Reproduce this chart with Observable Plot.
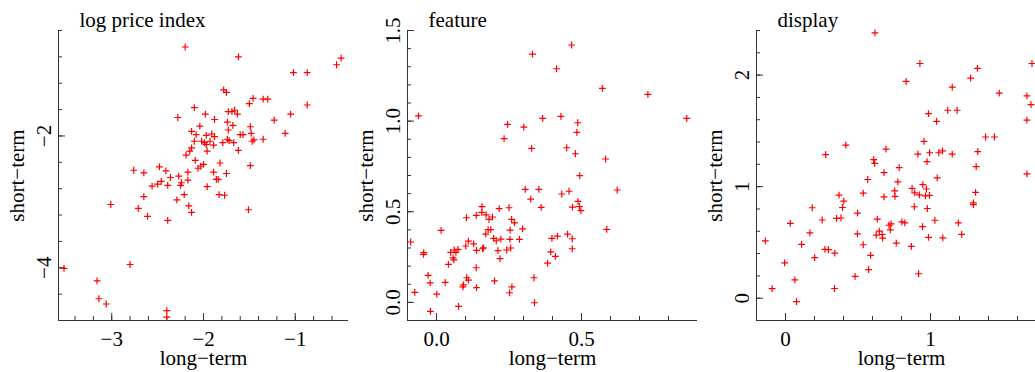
<!DOCTYPE html>
<html>
<head>
<meta charset="utf-8">
<script src="https://cdn.jsdelivr.net/npm/d3@7"></script>
<script src="https://cdn.jsdelivr.net/npm/@observablehq/plot@0.6"></script>
<style>
  html, body { margin: 0; padding: 0; background: #fff; overflow: hidden; }
  #wrap { position: relative; width: 1035px; height: 372px; overflow: hidden; }
  #wrap svg { position: absolute; top: 0; max-width: none !important; }
</style>
</head>
<body>
<div id="wrap"></div>
<script>
// ---------- data ----------
const titles = ["log price index", "feature", "display"];
const xTitle = "long−term";
const yTitle = "short−term";

// panel 1: log price index
const priceLong = [-2.20,-1.62,-0.50,-0.55,-1.02,-0.87,-1.78,-1.75,-1.46,-1.50,-1.35,-1.30,-0.87,-2.10,-1.05,-1.98,-1.73,-1.69,-1.66,-1.63,-2.28,-1.88,-1.23,-1.74,-2.04,-1.68,-1.49,-2.13,-1.73,-2.08,-1.97,-1.91,-1.88,-1.60,-1.57,-1.48,-1.11,-2.10,-2.02,-1.99,-1.97,-1.93,-1.89,-1.79,-1.74,-1.72,-1.67,-1.47,-1.45,-1.35,-2.13,-2.15,-1.96,-1.62,-2.19,-2.09,-2.00,-2.03,-2.06,-1.82,-1.49,-2.48,-2.41,-2.76,-2.65,-2.17,-1.89,-1.75,-2.36,-2.27,-2.17,-1.86,-1.84,-2.46,-2.50,-2.56,-2.39,-2.24,-2.25,-1.96,-2.65,-2.21,-1.83,-1.77,-2.29,-3.01,-2.16,-2.71,-1.51,-2.61,-2.13,-2.39,-3.52,-2.80,-3.16,-3.14,-3.06,-2.40,-2.40];
const priceShort = [-0.65,-0.80,-0.82,-0.92,-1.04,-1.04,-1.30,-1.34,-1.43,-1.51,-1.44,-1.44,-1.53,-1.57,-1.67,-1.67,-1.63,-1.63,-1.61,-1.67,-1.72,-1.75,-1.76,-1.79,-1.85,-1.84,-1.86,-1.93,-1.91,-1.98,-1.99,-1.97,-2.01,-1.98,-1.98,-1.96,-1.96,-2.08,-2.08,-2.10,-2.13,-2.08,-2.14,-2.10,-2.05,-2.07,-2.10,-2.08,-2.06,-2.05,-2.18,-2.23,-2.23,-2.22,-2.29,-2.37,-2.43,-2.46,-2.49,-2.41,-2.45,-2.47,-2.53,-2.52,-2.56,-2.55,-2.55,-2.57,-2.63,-2.61,-2.67,-2.66,-2.66,-2.69,-2.73,-2.76,-2.75,-2.71,-2.75,-2.77,-2.92,-2.89,-2.89,-2.90,-2.97,-3.04,-3.06,-3.10,-3.12,-3.22,-3.16,-3.28,-4.01,-3.95,-4.20,-4.47,-4.55,-4.65,-4.75];

// panel 2: feature
const featureLong = [-0.062,0.331,0.466,0.414,0.572,0.729,0.863,0.245,0.301,0.366,0.429,0.487,0.484,0.233,0.328,0.449,0.479,0.583,0.494,0.306,0.353,0.325,0.361,0.432,0.457,0.623,0.488,0.469,0.493,0.498,0.587,
  -0.089,-0.044,-0.045,-0.075,-0.029,-0.022,-0.021,0.001,0.016,0.030,0.041,0.049,0.061,0.067,0.057,0.060,0.074,0.076,0.091,0.093,0.101,0.103,0.110,0.104,0.110,0.128,0.137,0.138,0.137,0.138,0.157,0.156,0.162,0.159,0.171,0.181,0.193,0.170,0.178,0.187,0.197,0.206,0.200,0.212,0.216,0.222,0.219,0.242,0.250,0.254,0.259,0.269,0.253,0.256,0.252,0.260,0.286,0.297,0.336,0.338,0.383,0.394,0.410,0.398,0.417,0.452,0.468,0.468];
const featureShort = [1.029,1.370,1.420,1.289,1.181,1.148,1.015,0.982,0.967,1.015,1.026,0.991,0.938,0.903,0.850,0.853,0.820,0.791,0.699,0.623,0.623,0.570,0.524,0.598,0.613,0.620,0.557,0.526,0.529,0.506,0.403,
  0.333,0.274,0.265,0.055,0.149,0.108,-0.050,0.046,0.397,0.110,0.210,0.276,0.289,0.276,0.246,0.235,0.292,-0.022,0.086,0.097,0.311,0.467,0.338,0.136,0.123,0.323,0.480,0.287,0.191,0.081,0.528,0.497,0.301,0.296,0.483,0.458,0.471,0.377,0.401,0.401,0.353,0.340,0.119,0.285,0.517,0.349,0.241,0.289,0.522,0.399,0.458,0.439,0.348,0.300,0.053,0.086,0.348,0.405,0.136,-0.002,0.217,0.279,0.254,0.353,0.366,0.377,0.351,0.296];

// panel 3: display
const displayLong = [0.617,0.927,1.700,1.324,1.277,0.832,1.150,1.474,1.665,1.693,0.986,1.119,1.184,1.042,1.665,1.380,1.441,0.416,0.277,0.693,0.955,0.913,0.994,1.057,1.083,1.150,1.326,0.976,0.608,0.615,0.784,0.679,1.315,1.046,1.665,0.567,0.775,0.947,0.873,0.891,0.972,0.965,0.993,0.923,0.753,0.755,0.679,0.536,0.369,0.402,0.393,0.352,0.383,0.888,0.978,1.311,1.296,1.296,0.184,0.253,0.033,0.497,0.633,0.802,0.823,1.030,1.192,0.728,0.714,0.723,0.647,0.667,0.670,0.626,0.945,0.496,0.168,-0.139,0.111,0.536,0.764,0.868,0.986,1.085,1.215,0.272,0.296,0.340,0.201,0.587,-0.006,0.573,0.480,0.918,0.064,-0.092,0.338,0.076];
const displayShort = [2.378,2.104,2.104,2.060,1.973,1.944,1.893,1.839,1.813,1.735,1.654,1.685,1.685,1.585,1.596,1.445,1.445,1.372,1.288,1.337,1.406,1.292,1.304,1.304,1.320,1.292,1.314,1.225,1.243,1.208,1.170,1.125,1.180,1.078,1.114,1.064,1.043,1.018,0.985,0.945,0.979,0.917,0.922,0.927,0.962,0.913,0.909,0.942,0.924,0.871,0.813,0.716,0.719,0.820,0.804,0.948,0.854,0.839,0.811,0.701,0.670,0.763,0.708,0.685,0.676,0.699,0.676,0.667,0.654,0.613,0.601,0.571,0.538,0.565,0.641,0.576,0.585,0.513,0.482,0.479,0.494,0.464,0.545,0.540,0.573,0.438,0.435,0.404,0.363,0.384,0.317,0.257,0.196,0.219,0.165,0.085,0.087,-0.031];

// axes: domains, ticks, labels
const xDomains = [[-3.58, -0.42], [-0.1, 0.9], [-0.2, 1.8]];
const yDomains = [[-4.8, -0.4], [-0.1, 1.5], [-0.2, 2.4]];
const xMinorTicks = [
  [-3.4,-3.2,-3.0,-2.8,-2.6,-2.4,-2.2,-2.0,-1.8,-1.6,-1.4,-1.2,-1.0,-0.8,-0.6],
  [0.0,0.1,0.2,0.3,0.4,0.5,0.6,0.7,0.8],
  [0.0,0.2,0.4,0.6,0.8,1.0,1.2,1.4,1.6]
];
const yMinorTicks = [
  [-4.8,-4.4,-4.0,-3.6,-3.2,-2.8,-2.4,-2.0,-1.6,-1.2,-0.8,-0.4],
  [0.0,0.1,0.2,0.3,0.4,0.5,0.6,0.7,0.8,0.9,1.0,1.1,1.2,1.3,1.4,1.5],
  [0.0,0.2,0.4,0.6,0.8,1.0,1.2,1.4,1.6,1.8,2.0,2.2,2.4]
];
const xMajorTicks = [[-3, -2, -1], [0, 0.5], [0, 1]];
const xTickLabels = [["−3", "−2", "−1"], ["0.0", "0.5"], ["0", "1"]];
const yMajorTicks = [[-4, -2], [0, 0.5, 1.0, 1.5], [0, 1, 2]];
const yTickLabels = [["−4", "−2"], ["0.0", "0.5", "1.0", "1.5"], ["0", "1", "2"]];

const panelsX = [priceLong, featureLong, displayLong];
const panelsY = [priceShort, featureShort, displayShort];

// ---------- drawing ----------
const W = 349, H = 372, ML = 58, MR = 1, MT = 30, MB = 52;
const innerW = W - ML - MR, innerH = H - MT - MB;
const axisColor = "#333";
const FS = 21;
const plusSymbol = {
  draw(context, size) {
    const r = Math.sqrt(size / Math.PI);
    context.moveTo(-r, 0); context.lineTo(r, 0);
    context.moveTo(0, -r); context.lineTo(0, r);
  }
};

const wrap = document.getElementById("wrap");
for (let p = 0; p < 3; p++) {
  const pts = panelsX[p].map((x, i) => ({x, y: panelsY[p][i]}));
  const chart = Plot.plot({
    width: W, height: H,
    marginLeft: ML, marginRight: MR, marginTop: MT, marginBottom: MB,
    style: {fontFamily: "'Liberation Serif', 'Times New Roman', serif", fontSize: FS + "px", background: "white", color: "black"},
    x: {domain: xDomains[p], axis: null},
    y: {domain: yDomains[p], axis: null},
    marks: [
      Plot.ruleX([xDomains[p][0]], {stroke: axisColor}),
      Plot.ruleY([yDomains[p][0]], {stroke: axisColor}),
      Plot.tickX(xMinorTicks[p], {x: d => d, insetTop: innerH - 4, stroke: axisColor}),
      Plot.tickX(xMajorTicks[p], {x: d => d, insetTop: innerH - 7, stroke: axisColor}),
      Plot.tickY(yMinorTicks[p], {y: d => d, insetRight: innerW - 4, stroke: axisColor}),
      Plot.tickY(yMajorTicks[p], {y: d => d, insetRight: innerW - 7, stroke: axisColor}),
      Plot.text(xMajorTicks[p], {x: d => d, text: (d, i) => xTickLabels[p][i], frameAnchor: "bottom", lineAnchor: "bottom", dy: 25, fontSize: FS, fill: "black"}),
      Plot.text(yMajorTicks[p], {y: d => d, text: (d, i) => yTickLabels[p][i], frameAnchor: "left", rotate: -90, textAnchor: "middle", lineAnchor: "bottom", dx: -8, fontSize: FS, fill: "black"}),
      Plot.text([xTitle], {text: d => d, frameAnchor: "bottom", lineAnchor: "bottom", dy: 44, fontSize: FS, fill: "black"}),
      Plot.text([yTitle], {text: d => d, frameAnchor: "left", rotate: -90, textAnchor: "middle", lineAnchor: "bottom", dx: -35, fontSize: FS, fill: "black"}),
      Plot.text([titles[p]], {text: d => d, frameAnchor: "top-left", textAnchor: "start", lineAnchor: "bottom", dx: 21, dy: -4, fontSize: FS, fill: "black"}),
      Plot.dot(pts, {x: "x", y: "y", symbol: plusSymbol, r: 3.4, stroke: "#ff0000", fill: "none", strokeWidth: 1.2})
    ]
  });
  chart.style.left = (p * W) + "px";
  wrap.appendChild(chart);
}
</script>
</body>
</html>
